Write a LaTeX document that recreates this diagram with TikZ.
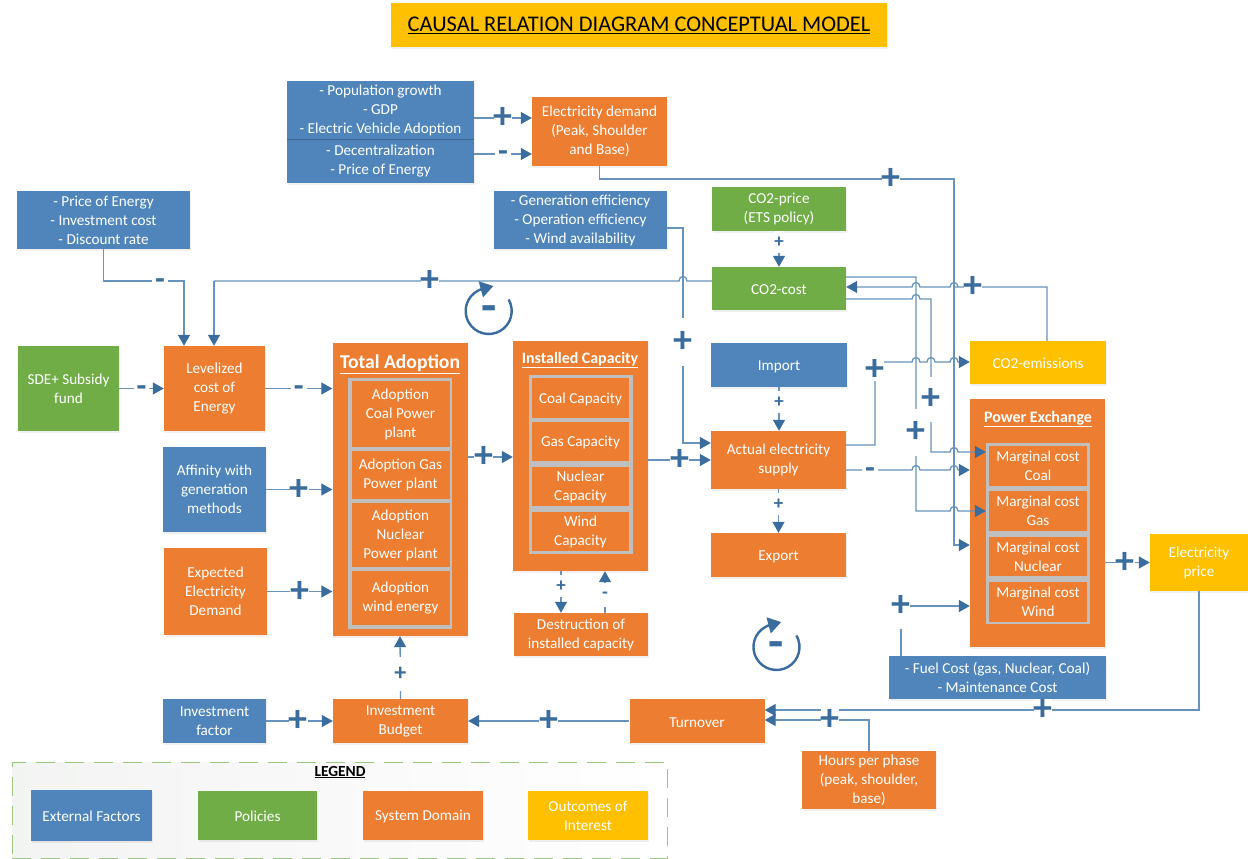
\documentclass[tikz,border=0pt]{standalone}
\usepackage{fontspec}
\setmainfont{Carlito}
\usetikzlibrary{arrows.meta,shadows}

\definecolor{blueface}{HTML}{4F85BB}
\definecolor{orangeface}{HTML}{ED7D31}
\definecolor{greenface}{HTML}{70AD47}
\definecolor{yellowface}{HTML}{FFC000}
\definecolor{frameface}{HTML}{BFBFBF}
\definecolor{wireline}{HTML}{6793BC}
\definecolor{signface}{HTML}{3B6C9E}

\tikzset{
  box/.style 2 args={minimum width=#1 pt,minimum height=#2 pt,inner sep=0pt,align=center,
    text=white,font=\fontsize{15.2}{19}\selectfont,execute at begin node={\rule{0pt}{13pt}},
    drop shadow={opacity=.12,shadow xshift=.6pt,shadow yshift=-2pt}},
  bluebox/.style={fill=blueface},
  orangebox/.style={fill=orangeface},
  greenbox/.style={fill=greenface},
  yellowbox/.style={fill=yellowface},
  framebox/.style 2 args={minimum width=#1 pt,minimum height=#2 pt,inner sep=0pt,fill=frameface},
  subbox/.style 2 args={minimum width=#1 pt,minimum height=#2 pt,inner sep=0pt,align=center,
    text=white,fill=orangeface,font=\fontsize{15.2}{19}\selectfont,execute at begin node={\rule{0pt}{13pt}}},
  wire/.style={draw=wireline,line width=1.3pt},
  link/.style={wire,-{Triangle[length=11pt,width=12pt,fill=signface,color=signface]}},
  plusmark/.style={fill=white,inner sep=0pt,text=signface,font=\bfseries\fontsize{38}{38}\selectfont},
  minusmark/.style={fill=white,inner xsep=3pt,inner ysep=0pt,yshift=-2.5pt,text=signface,font=\bfseries\fontsize{32}{32}\selectfont},
  smallplus/.style={fill=white,inner sep=0pt,minimum height=22pt,text=signface,font=\bfseries\fontsize{19}{19}\selectfont},
  smallminus/.style={fill=white,inner sep=0pt,minimum height=24pt,text=signface,font=\bfseries\fontsize{19}{19}\selectfont},
  looparc/.style={draw=signface,line width=2.4pt,-{Triangle[length=13pt,width=16pt]}},
  loopsign/.style={inner sep=0pt,text=signface,yshift=-3pt,font=\bfseries\fontsize{50}{50}\selectfont},
}

% saut d'une ligne verticale : abscisse, ordonnee, sens
\newcommand{\hopover}[3]{-- ({#1-4*(#3)},#2) .. controls ({#1-4*(#3)},{#2-6}) and ({#1+4*(#3)},{#2-6}) .. ({#1+4*(#3)},#2)}

\begin{document}
\begin{tikzpicture}[x=1pt,y=-1pt]
	\useasboundingbox (0,0) rectangle (1248,859);

	% titre
	\node[fill=yellowface,minimum width=496pt,minimum height=44pt,inner sep=0pt,font=\fontsize{22.4}{26}\selectfont,
		drop shadow={opacity=.12,shadow xshift=.6pt,shadow yshift=-2pt}] (title) at (639,25) {\underline{CAUSAL RELATION DIAGRAM CONCEPTUAL MODEL}};

	% legende
	\node[draw=greenface!70,dashed,dash pattern=on 19pt off 10pt,left color=green!10!black!5,right color=white,minimum width=655pt,minimum height=96pt,inner sep=0pt,line width=1pt] (legendframe) at (339.5,810) {};
	\node[font=\bfseries\fontsize{15.4}{18}\selectfont,inner sep=0pt] (legendtitle) at (340,772) {\underline{LEGEND}};
	\node[box={121}{51},bluebox] (legexternal) at (91.5,815.5) {External Factors};
	\node[box={119}{49},greenbox] (legpolicies) at (257.5,815.5) {Policies};
	\node[box={120}{49},orangebox] (legsystem) at (423,815.5) {System Domain};
	\node[box={120}{49},yellowbox] (legoutcomes) at (588,815.5) {Outcomes of\\Interest};

	% facteurs externes
	\node[box={187}{58},bluebox] (growth) at (380.5,110) {- Population growth\\- GDP\\- Electric Vehicle Adoption};
	\node[box={187}{44},bluebox] (decentral) at (380.5,161) {- Decentralization\\- Price of Energy};
	\draw[blueface!75!black] (decentral.north west) -- (decentral.north east);
	\node[box={173}{58},bluebox] (energyprice) at (103.5,220) {- Price of Energy\\- Investment cost\\- Discount rate};
	\node[box={173}{58},bluebox] (efficiency) at (580.5,220) {- Generation efficiency\\- Operation efficiency\\- Wind availability};
	\node[box={103}{85},bluebox] (affinity) at (214.5,489.5) {Affinity with\\generation\\methods};
	\node[box={136}{44},bluebox] (import) at (779,365) {Import};
	\node[box={217}{43},bluebox] (fuelcost) at (997.5,677.5) {- Fuel Cost (gas, Nuclear, Coal)\\- Maintenance Cost};
	\node[box={103}{44},bluebox] (investfactor) at (214.5,721) {Investment\\factor};

	% politiques
	\node[box={134}{44},greenbox] (co2price) at (779,209) {CO2-price\\(ETS policy)};
	\node[box={134}{43},greenbox] (co2cost) at (779,288.5) {CO2-cost};
	\node[box={101}{85},greenbox] (subsidy) at (68.5,388.5) {SDE+ Subsidy\\fund};

	% domaine du systeme
	\node[box={135}{69},orangebox] (demand) at (599.5,131.5) {Electricity demand\\(Peak, Shoulder\\and Base)};
	\node[box={101}{85},orangebox] (levelized) at (214.5,388.5) {Levelized\\cost of\\Energy};
	\node[box={103}{87},orangebox] (expected) at (215.5,591.5) {Expected\\Electricity\\Demand};
	\node[box={135}{58},orangebox] (supply) at (778.5,460) {Actual electricity\\supply};
	\node[box={135}{44},orangebox] (export) at (778.5,555) {Export};
	\node[box={134}{43},orangebox] (destruction) at (581,634.5) {Destruction of\\installed capacity};
	\node[box={135}{44},orangebox] (turnover) at (697,721) {Turnover};
	\node[box={134}{58},orangebox] (hours) at (869,780) {Hours per phase\\(peak, shoulder,\\base)};
	\node[box={135}{44},orangebox] (budget) at (400.5,721) {Investment\\Budget};

	% adoption totale
	\node[box={135}{293},orangebox] (adoption) at (400,489.5) {};
	\node[inner sep=0pt,text=white,font=\bfseries\fontsize{19.6}{22}\selectfont] (adoptiontitle) at (400,364) {\underline{Total Adoption}};
	\node[framebox={104}{251}] (adoptionframe) at (400,503.5) {};
	\node[subbox={98}{66}] (adoptcoal) at (400.5,414) {Adoption\\Coal Power\\plant};
	\node[subbox={98}{48}] (adoptgas) at (400.5,475) {Adoption Gas\\Power plant};
	\node[subbox={98}{64}] (adoptnuclear) at (400.5,535) {Adoption\\Nuclear\\Power plant};
	\node[subbox={98}{54}] (adoptwind) at (400.5,598) {Adoption\\wind energy};

	% capacite installee
	\node[box={135}{230},orangebox] (capacity) at (580.5,456) {};
	\node[inner sep=0pt,text=white,font=\bfseries\fontsize{15.9}{18}\selectfont] (capacitytitle) at (580,360) {\underline{Installed Capacity}};
	\node[framebox={104}{179}] (capacityframe) at (580.5,464.5) {};
	\node[subbox={97}{40}] (capcoal) at (580.5,398) {Coal Capacity};
	\node[subbox={97}{39}] (capgas) at (580.5,441.5) {Gas Capacity};
	\node[subbox={97}{39}] (capnuclear) at (580.5,486.5) {Nuclear\\Capacity};
	\node[subbox={97}{39}] (capwind) at (580.5,531.5) {Wind\\Capacity};

	% bourse de l'electricite
	\node[box={135}{248},orangebox] (exchange) at (1037.5,523) {};
	\node[inner sep=0pt,text=white,font=\bfseries\fontsize{16}{18}\selectfont] (exchangetitle) at (1038,419) {\underline{Power Exchange}};
	\node[framebox={104}{181}] (exchangeframe) at (1038,533.5) {};
	\node[subbox={98}{40}] (margcoal) at (1038,466) {Marginal cost\\Coal};
	\node[subbox={98}{40}] (marggas) at (1038,511) {Marginal cost\\Gas};
	\node[subbox={98}{39}] (margnuclear) at (1038,556.5) {Marginal cost\\Nuclear};
	\node[subbox={98}{40}] (margwind) at (1038,602) {Marginal cost\\Wind};

	% resultats
	\node[box={136}{43},yellowbox] (emissions) at (1038,362.5) {CO2-emissions};
	\node[box={98}{57},yellowbox] (elecprice) at (1199,562.5) {Electricity\\price};

	% liens droits
	\draw[link] (growth.east |- 0,118) -- (demand.west |- 0,118) node[pos=.5,plusmark] (plusgrowth) {+};
	\draw[link] (decentral.east |- 0,154) -- (demand.west |- 0,154) node[pos=.5,minusmark] (minusdecentral) {-};
	\draw[link] (subsidy.east) -- (levelized.west) node[pos=.5,minusmark] (minussubsidy) {-};
	\draw[link] (levelized.east) -- (adoption.west |- levelized.east) node[pos=.5,minusmark] (minuslevelized) {-};
	\draw[link] (affinity.east) -- (adoption.west |- affinity.east) node[pos=.5,plusmark] (plusaffinity) {+};
	\draw[link] (expected.east) -- (adoption.west |- expected.east) node[pos=.5,plusmark] (plusexpected) {+};
	\draw[link] (adoption.east |- 0,457) -- (capacity.west |- 0,457) node[pos=.35,plusmark] (plusadoption) {+};
	\draw[link] (capacity.east |- supply.west) -- (supply.west) node[pos=.5,plusmark] (pluscapacity) {+};
	\draw[link] (co2price.south) -- (co2cost.north) node[pos=.3,smallplus] (plusco2price) {+};
	\draw[link] (import.south) -- (supply.north -| import.south) node[pos=.34,smallplus] (plusimport) {+};
	\draw[link] (supply.south) -- (export.north) node[pos=.34,smallplus] (plusexport) {+};
	\draw[link] (capacity.south -| 561,0) -- (destruction.north -| 561,0) node[pos=.36,smallplus] (plusdestruction) {+};
	\draw[link] (destruction.north -| 605,0) -- (capacity.south -| 605,0) node[pos=.43,smallminus] (minusdestruction) {-};
	\draw[link] (investfactor.east) -- (budget.west) node[pos=.48,plusmark] (plusinvest) {+};
	\draw[link] (turnover.west) -- (budget.east) node[pos=.5,plusmark] (plusturnover) {+};
	\draw[link] (budget.north) -- (adoption.south) node[pos=.4,smallplus,minimum height=34pt,font=\bfseries\fontsize{24}{24}\selectfont] (plusbudget) {+};
	\draw[link] (exchange.east |- elecprice.west) -- (elecprice.west) node[pos=.45,plusmark] (plusexchange) {+};

	% liens coudes
	\draw[link] (energyprice.south) |- (184,281) -- (levelized.north -| 184,0);
	\node[minusmark] (minusenergy) at (160,282) {-};

	\draw[wire] (co2cost.west |- 0,281) \hopover{683}{281}{-1} -- (214,281);
	\draw[link] (214,281) -- (levelized.north -| 214,0);
	\node[plusmark] (plusco2cost) at (430,281) {+};

	\draw[link] (efficiency.east |- 0,228) -| (683,443) -- (supply.west |- 0,443);
	\node[plusmark,minimum height=48pt] (plusefficiency) at (683,342) {+};

	\draw[link] (demand.south) |- (954,179) -- (954,545) -- (exchange.west |- 0,545);
	\node[plusmark] (plusdemand) at (891,179) {+};

	\draw[link] (emissions.north -| 1047,0) |- (954,287) \hopover{954}{287}{-1} \hopover{916}{287}{-1} -- (co2cost.east |- 0,287);
	\node[plusmark] (plusemissions) at (973,287) {+};

	\draw[link] (co2cost.east |- 0,277) -| (916,511) \hopover{954}{511}{1} -- (exchangeframe.west |- 0,511);
	\node[plusmark,minimum height=47pt] (plusgas) at (916,432) {+};

	\draw[link] (co2cost.east |- 0,299) \hopover{916}{299}{1} -| (931,452) \hopover{954}{452}{1} -- (exchangeframe.west |- 0,452);
	\node[plusmark,minimum height=45pt] (pluscoal) at (931,399) {+};

	\draw[link] (supply.east |- 0,445) -| (875,362) \hopover{916}{362}{1} \hopover{931}{362}{1} \hopover{954}{362}{1} -- (emissions.west |- 0,362);
	\node[plusmark,minimum height=21pt] (plussupply) at (875,370) {+};

	\draw[link] (supply.east |- 0,470) \hopover{916}{470}{1} \hopover{954}{470}{1} -- (exchange.west |- 0,470);
	\node[minusmark] (minussupply) at (870,471) {-};

	\draw[link] (fuelcost.north -| 901,0) |- (exchange.west |- 0,606);
	\node[plusmark,minimum height=46pt] (plusfuel) at (901,606) {+};

	\draw[link] (elecprice.south) |- (turnover.east |- 0,710);
	\node[plusmark] (pluselecprice) at (1043,710) {+};

	\draw[link] (hours.north) |- (turnover.east |- 0,720);
	\node[plusmark] (plushours) at (830,720) {+};

	% boucles
	\node[loopsign] (loopleft) at (488.7,311) {-};
	\draw[looparc] (488.7,311) ++(30:23pt) arc[start angle=30,end angle=-250,radius=23pt] -- ++(15:13pt);
	\node[loopsign] (loopright) at (776.5,647) {-};
	\draw[looparc] (776.5,647) ++(30:23pt) arc[start angle=30,end angle=-250,radius=23pt] -- ++(15:13pt);
\end{tikzpicture}
\end{document}
